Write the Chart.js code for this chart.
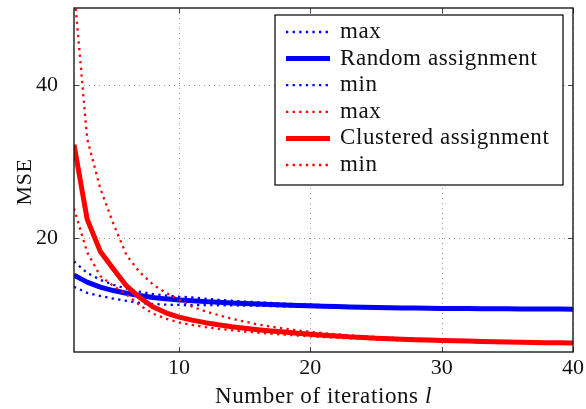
<!DOCTYPE html>
<html>
<head>
<meta charset="utf-8">
<script src="https://cdn.jsdelivr.net/npm/chart.js@4/dist/chart.umd.min.js"></script>
<style>
  html, body { margin: 0; padding: 0; background: #fff; }
  canvas { display: block; }
</style>
</head>
<body>
<canvas id="mse" width="586" height="409"></canvas>
<script>
// Iteration counts on the horizontal axis
const iterations = [2,3,4,5,6,7,8,9,10,11,12,13,14,15,16,17,18,19,20,21,22,23,24,25,26,27,28,29,30,31,32,33,34,35,36,37,38,39,40];

// Random assignment: max / mean / min MSE per iteration
const randomMax = [17.0,15.5,14.6,13.95,13.45,13.05,12.75,12.55,12.4,12.31,12.14,12.0,11.88,11.77,11.67,11.58,11.5,11.43,11.36,11.3,11.24,11.18,11.14,11.1,11.07,11.03,11.01,10.98,10.96,10.93,10.92,10.91,10.89,10.88,10.87,10.85,10.84,10.84,10.83];
const randomMean = [15.2,14.3,13.65,13.2,12.85,12.55,12.3,12.12,11.98,11.86,11.76,11.67,11.59,11.52,11.45,11.38,11.32,11.27,11.22,11.17,11.12,11.07,11.03,11.0,10.97,10.94,10.92,10.9,10.88,10.86,10.85,10.84,10.83,10.82,10.81,10.8,10.79,10.79,10.78];
const randomMin = [13.7,12.9,12.5,12.15,11.85,11.6,11.45,11.37,11.33,11.31,11.31,11.29,11.27,11.25,11.22,11.18,11.14,11.11,11.08,11.04,11.0,10.96,10.92,10.9,10.87,10.85,10.83,10.82,10.8,10.79,10.78,10.77,10.77,10.76,10.75,10.75,10.74,10.74,10.73];

// Clustered assignment: max / mean / min MSE per iteration
const clusteredMax = [52.5,33.0,26.5,21.9,17.8,15.6,14.0,12.9,12.0,11.1,10.5,10.0,9.55,9.15,8.8,8.5,8.25,8.02,7.82,7.65,7.5,7.37,7.26,7.16,7.07,6.99,6.92,6.86,6.8,6.74,6.69,6.64,6.6,6.56,6.52,6.49,6.45,6.42,6.4];
const clusteredMean = [32.2,22.5,18.3,16.0,13.8,12.3,11.1,10.3,9.75,9.35,9.02,8.74,8.5,8.3,8.11,7.94,7.79,7.64,7.5,7.38,7.27,7.17,7.08,7.0,6.93,6.87,6.81,6.76,6.71,6.66,6.62,6.58,6.54,6.51,6.48,6.45,6.42,6.4,6.37];
const clusteredMin = [23.9,18.2,15.1,13.8,12.7,11.3,10.2,9.55,9.05,8.72,8.45,8.22,8.03,7.87,7.72,7.58,7.46,7.35,7.25,7.15,7.06,6.98,6.91,6.84,6.78,6.73,6.68,6.63,6.59,6.55,6.52,6.49,6.46,6.43,6.41,6.38,6.36,6.34,6.32];

// Axis ticks
const xTicks = [10, 20, 30, 40];
const yTicks = [20, 40];

const SERIF = "'Liberation Serif', 'Times New Roman', serif";
const BLUE = '#0000ff';
const RED = '#ff0000';
const DOTS = [2.3, 4.3];

function series(label, values, color, dotted, order) {
  return {
    label,
    data: iterations.map((l, i) => ({ x: l, y: values[i] })),
    borderColor: color,
    backgroundColor: color,
    borderWidth: dotted ? 2.3 : 5,
    borderDash: dotted ? DOTS : [],
    borderCapStyle: 'butt',
    borderJoinStyle: 'round',
    pointRadius: 0,
    pointHoverRadius: 0,
    tension: 0,
    fill: false,
    clip: 0,
    order
  };
}

const datasets = [
  series('max', randomMax, BLUE, true, 5),
  series('Random assignment', randomMean, BLUE, false, 4),
  series('min', randomMin, BLUE, true, 3),
  series('max', clusteredMax, RED, true, 2),
  series('Clustered assignment', clusteredMean, RED, false, 1),
  series('min', clusteredMin, RED, true, 0)
];

function line(ctx, x1, y1, x2, y2) {
  ctx.beginPath(); ctx.moveTo(x1, y1); ctx.lineTo(x2, y2); ctx.stroke();
}

// Scales keep no extra padding so the plot box is set by the layout alone
function noPadding(s) {
  s.paddingTop = 0; s.paddingBottom = 0; s.paddingLeft = 0; s.paddingRight = 0;
}

// Dotted grid behind the curves, box frame with inward ticks on top
const framePlugin = {
  id: 'frame',
  beforeDatasetsDraw(chart) {
    const { ctx, chartArea: a, scales: { x, y } } = chart;
    ctx.save();
    ctx.strokeStyle = '#9a9a9a';
    ctx.lineWidth = 1;
    ctx.setLineDash([1, 4]);
    x.ticks.forEach(t => {
      const px = Math.round(x.getPixelForValue(t.value)) + 0.5;
      line(ctx, px, a.top, px, a.bottom);
    });
    y.ticks.forEach(t => {
      const py = Math.round(y.getPixelForValue(t.value)) + 0.5;
      line(ctx, a.left, py, a.right, py);
    });
    ctx.restore();
  },
  afterDatasetsDraw(chart) {
    const { ctx, chartArea: a, scales: { x, y } } = chart;
    ctx.save();
    ctx.strokeStyle = '#444';
    ctx.lineWidth = 1;
    const tl = 5;
    x.ticks.forEach(t => {
      const px = Math.round(x.getPixelForValue(t.value)) + 0.5;
      line(ctx, px, a.bottom, px, a.bottom - tl);
      line(ctx, px, a.top, px, a.top + tl);
    });
    y.ticks.forEach(t => {
      const py = Math.round(y.getPixelForValue(t.value)) + 0.5;
      line(ctx, a.left, py, a.left + tl, py);
      line(ctx, a.right, py, a.right - tl, py);
    });
    ctx.strokeStyle = '#1a1a1a';
    ctx.lineWidth = 1.4;
    ctx.strokeRect(a.left, a.top, a.right - a.left, a.bottom - a.top);
    ctx.restore();
  }
};

// Legend box inside the plot (top right) and the axis titles
const legendPlugin = {
  id: 'boxLegend',
  afterDraw(chart) {
    const { ctx, chartArea: a } = chart;
    const w = 288, h = 170;
    const left = a.right - 10 - w, top = a.top + 7;
    ctx.save();
    ctx.fillStyle = '#fff';
    ctx.fillRect(left, top, w, h);
    ctx.strokeStyle = '#000';
    ctx.lineWidth = 1.2;
    ctx.strokeRect(left, top, w, h);

    ctx.font = '23px ' + SERIF;
    ctx.letterSpacing = '0.6px';
    ctx.textBaseline = 'alphabetic';
    ctx.textAlign = 'left';
    chart.data.datasets.forEach((ds, i) => {
      const cy = top + 17 + i * 26.6;
      ctx.strokeStyle = ds.borderColor;
      ctx.lineWidth = ds.borderWidth;
      ctx.lineCap = 'butt';
      ctx.setLineDash(ds.borderDash);
      line(ctx, left + 11, cy, left + 55, cy);
      ctx.setLineDash([]);
      ctx.fillStyle = '#111';
      ctx.fillText(ds.label, left + 65, cy + 6);
    });

    // x-axis title with italic variable
    const base = 'Number of iterations ';
    ctx.font = '23px ' + SERIF;
    const w1 = ctx.measureText(base).width;
    ctx.font = 'italic 23px ' + SERIF;
    const w2 = ctx.measureText('l').width;
    const cx = (a.left + a.right) / 2;
    const startX = cx - (w1 + w2) / 2;
    ctx.fillStyle = '#111';
    ctx.font = '23px ' + SERIF;
    ctx.fillText(base, startX, 403);
    ctx.font = 'italic 23px ' + SERIF;
    ctx.fillText('l', startX + w1, 403);

    // y-axis title
    ctx.font = '22px ' + SERIF;
    ctx.textAlign = 'center';
    ctx.translate(31, (a.top + a.bottom) / 2 + 2);
    ctx.rotate(-Math.PI / 2);
    ctx.fillText('MSE', 0, 0);
    ctx.restore();
  }
};

new Chart(document.getElementById('mse'), {
  type: 'line',
  data: { datasets },
  options: {
    responsive: false,
    animation: false,
    devicePixelRatio: 1,
    layout: { padding: { top: 8, right: 13, left: 0, bottom: 0 } },
    plugins: { legend: { display: false }, tooltip: { enabled: false } },
    scales: {
      x: {
        type: 'linear',
        min: 2,
        max: 40,
        afterBuildTicks: s => { s.ticks = xTicks.map(v => ({ value: v })); },
        afterFit: s => { s.height = 57; noPadding(s); },
        grid: { display: false },
        border: { display: false },
        ticks: {
          padding: -5,
          maxRotation: 0,
          color: '#111',
          font: { family: SERIF, size: 22 }
        }
      },
      y: {
        type: 'linear',
        min: 5.2,
        max: 50,
        afterBuildTicks: s => { s.ticks = yTicks.map(v => ({ value: v })); },
        afterFit: s => { s.width = 74; noPadding(s); },
        grid: { display: false },
        border: { display: false },
        ticks: {
          padding: 8,
          color: '#111',
          font: { family: SERIF, size: 22 }
        }
      }
    }
  },
  plugins: [framePlugin, legendPlugin]
});
</script>
</body>
</html>
